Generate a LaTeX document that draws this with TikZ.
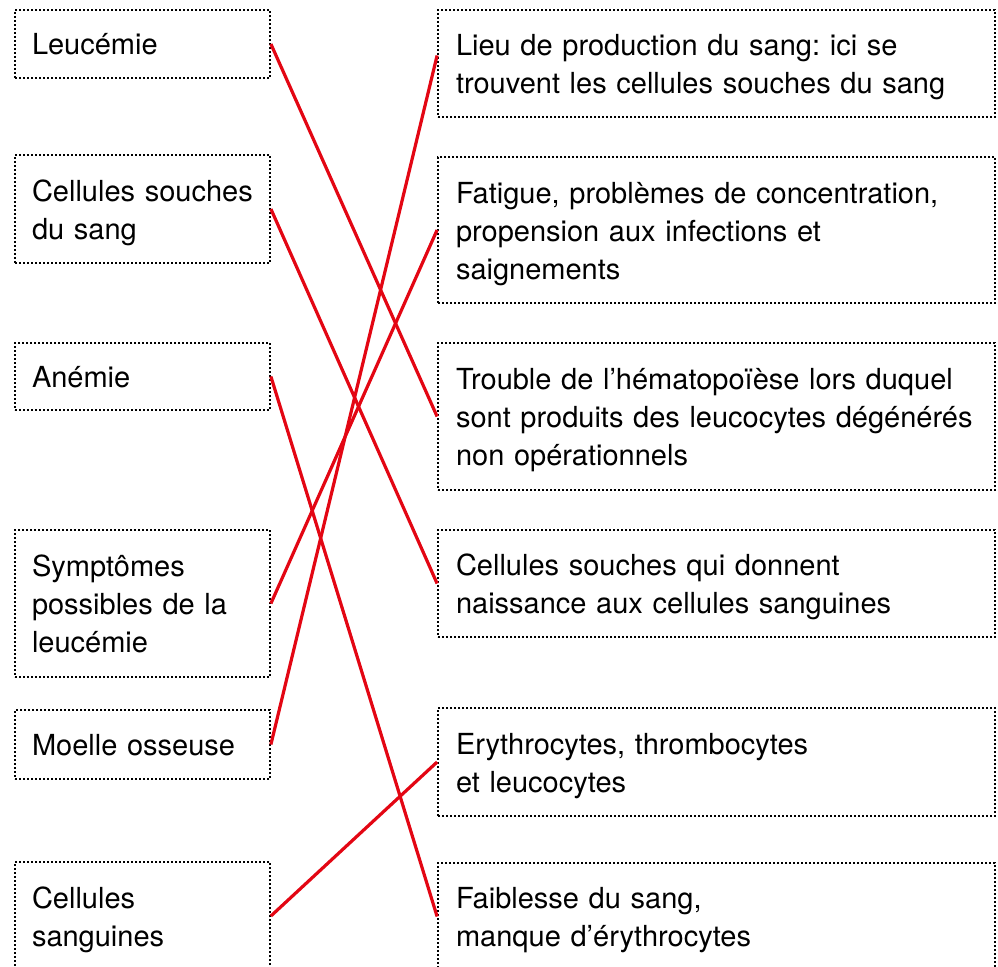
\documentclass[tikz,border=0pt]{standalone}
\usepackage{fontspec}
\setmainfont{TeX Gyre Heros}
\definecolor{linered}{RGB}{227,6,19}
\newcommand\fstrut{\rule{0pt}{30pt}}
\newcommand\lstrut{\rule[-8pt]{0pt}{8pt}}
\frenchspacing
\begin{document}
\begin{tikzpicture}[x=1pt,y=-1pt,
  box/.style={draw=black, line width=1.8pt, dash pattern=on 1.8pt off 2.2pt, rectangle, inner ysep=0pt, align=left, font=\fontsize{29}{38}\selectfont\frenchspacing},
  lbox/.style={box, inner xsep=17pt, text width=221pt, minimum width=255pt},
  rbox/.style={box, inner xsep=18pt, text width=521pt, minimum width=557pt},
  link/.style={draw=linered, line width=3.2pt}]
\useasboundingbox (0,0) rectangle (998,966);
\clip (0,0) rectangle (998,966);
% left column
\node[lbox, minimum height=68pt] (leuc) at (142.5,44) {\fstrut Leucémie\lstrut};
\node[lbox, minimum height=108pt] (csang) at (142.5,209) {\fstrut Cellules souches\\du sang\lstrut};
\node[lbox, minimum height=67pt] (anemie) at (142.5,376.5) {\fstrut Anémie\lstrut};
\node[lbox, minimum height=147pt] (sympt) at (142.5,603.5) {\fstrut Symptômes\\possibles de la\\leucémie\lstrut};
\node[lbox, minimum height=69pt] (moelle) at (142.5,744.5) {\fstrut Moelle osseuse\lstrut};
\node[lbox, minimum height=108pt] (csanguines) at (142.5,916) {\fstrut Cellules\\sanguines\lstrut};
% right column
\node[rbox, minimum height=107pt] (lieu) at (716.5,63.5) {\fstrut Lieu de production du sang: ici se\\trouvent les cellules souches du sang\lstrut};
\node[rbox, minimum height=146pt] (fatigue) at (716.5,230) {\fstrut Fatigue, problèmes de concentration,\\propension aux infections et\\saignements\lstrut};
\node[rbox, minimum height=147pt] (trouble) at (716.5,416.5) {\fstrut Trouble de l’hématopoïèse lors duquel\\sont produits des leucocytes dégénérés\\non opérationnels\lstrut};
\node[rbox, minimum height=107pt] (csqui) at (716.5,583.5) {\fstrut Cellules souches qui donnent\\naissance aux cellules sanguines\lstrut};
\node[rbox, minimum height=108pt] (ery) at (716.5,762) {\fstrut Erythrocytes, thrombocytes\\et leucocytes\lstrut};
\node[rbox, minimum height=107pt] (faib) at (716.5,916.5) {\fstrut Faiblesse du sang,\\manque d’érythrocytes\lstrut};
% connectors
\draw[link] (leuc.east) -- (trouble.west);
\draw[link] (csang.east) -- (csqui.west);
\draw[link] (anemie.east) -- (faib.west);
\draw[link] (sympt.east) -- (fatigue.west);
\draw[link] (moelle.east) -- ([yshift=8pt]lieu.west);
\draw[link] (csanguines.east) -- (ery.west);
\end{tikzpicture}
\end{document}
